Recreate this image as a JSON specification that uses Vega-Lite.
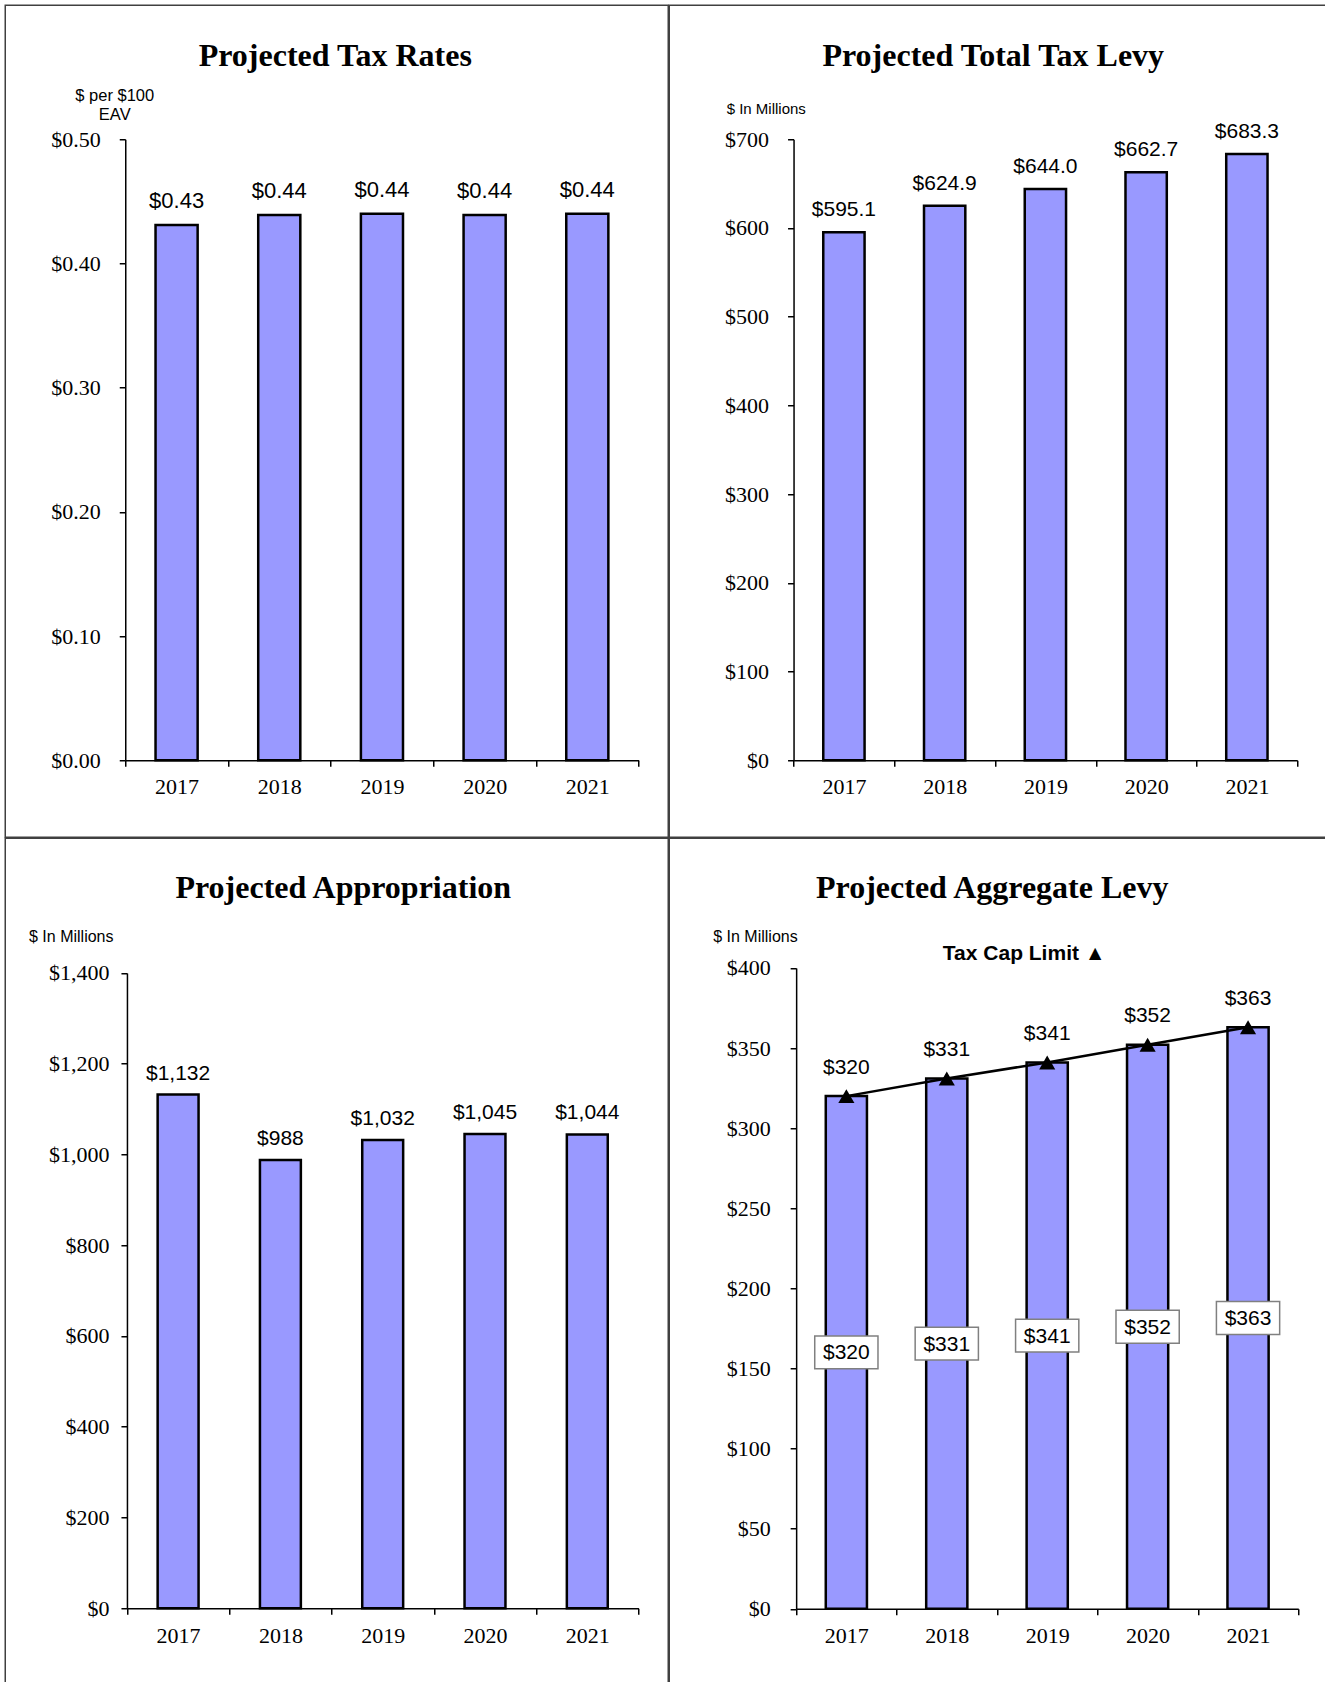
{
  "$schema": "https://vega.github.io/schema/vega-lite/v6.json",
  "padding": {"left": 4.25, "top": 4.25, "right": 0, "bottom": 0},
  "background": "white",
  "spacing": -1.5,
  "config": {
    "font": "Liberation Sans",
    "view": {"stroke": "#404040", "strokeWidth": 1.5},
    "concat": {"spacing": -1.5},
    "axis": {
      "domainColor": "black", "domainWidth": 1.5,
      "tickColor": "black", "tickWidth": 1.5, "tickSize": 6,
      "labelFont": "Liberation Serif", "labelFontSize": 22, "labelColor": "black",
      "grid": false,
      "titleFont": "Liberation Sans", "titleFontWeight": "normal", "titleColor": "black"
    },
    "title": {"font": "Liberation Serif", "fontSize": 32, "fontWeight": "bold", "color": "black", "anchor": "middle", "baseline": "alphabetic"},
    "text": {"font": "Liberation Sans", "fontSize": 21, "color": "black"}
  },
  "datasets": {
    "rates": [
      {"year": "2017", "rate": 0.431},
      {"year": "2018", "rate": 0.439},
      {"year": "2019", "rate": 0.440},
      {"year": "2020", "rate": 0.439},
      {"year": "2021", "rate": 0.440}
    ],
    "levy": [
      {"year": "2017", "levy": 595.1},
      {"year": "2018", "levy": 624.9},
      {"year": "2019", "levy": 644.0},
      {"year": "2020", "levy": 662.7},
      {"year": "2021", "levy": 683.3}
    ],
    "approp": [
      {"year": "2017", "amount": 1132},
      {"year": "2018", "amount": 988},
      {"year": "2019", "amount": 1032},
      {"year": "2020", "amount": 1045},
      {"year": "2021", "amount": 1044}
    ],
    "agg": [
      {"year": "2017", "levy": 320, "cap": 320},
      {"year": "2018", "levy": 331, "cap": 331},
      {"year": "2019", "levy": 341, "cap": 341},
      {"year": "2020", "levy": 352, "cap": 352},
      {"year": "2021", "levy": 363, "cap": 363}
    ]
  },
  "vconcat": [
    {
      "spacing": -1.5,
      "hconcat": [
        {
          "width": 663, "height": 832,
          "title": {"text": "Projected Tax Rates", "offset": -67.5, "dx": -1.5},
          "data": {"name": "rates"},
          "encoding": {
            "x": {"field": "year", "type": "ordinal", "sort": null,
              "scale": {"range": [120, 633.4], "paddingInner": 0, "paddingOuter": 0},
              "axis": {"title": null, "labelAngle": 0, "offset": -77, "tickBand": "extent", "labelPadding": 10, "labelFont": "Liberation Serif"}}
          },
          "layer": [
            {
              "mark": {"type": "bar", "fill": "#9999ff", "stroke": "black", "strokeWidth": 2.5, "width": {"band": 0.41}},
              "encoding": {
                "y": {"field": "rate", "type": "quantitative",
                  "scale": {"domain": [0, 0.5], "range": [755, 134]},
                  "axis": {"offset": -120, "values": [0, 0.1, 0.2, 0.3, 0.4, 0.5], "format": "$.2f", "labelPadding": 19, "labelFont": "Liberation Serif",
                    "title": ["$ per $100", "EAV"], "titleX": -11, "titleY": 82, "titleFontSize": 16.5, "titleLineHeight": 19.4,
                    "titleBaseline": "top", "titleAlign": "center", "titleAngle": 0}}
              }
            },
            {
              "mark": {"type": "text", "dy": -17, "baseline": "alphabetic", "fontSize": 22},
              "encoding": {
                "y": {"field": "rate", "type": "quantitative"},
                "text": {"field": "rate", "type": "quantitative", "format": "$.2f"}
              }
            }
          ]
        },
        {
          "width": 660, "height": 832,
          "title": {"text": "Projected Total Tax Levy", "offset": -67.5, "dx": -6},
          "data": {"name": "levy"},
          "encoding": {
            "x": {"field": "year", "type": "ordinal", "sort": null,
              "scale": {"range": [124.3, 628], "paddingInner": 0, "paddingOuter": 0},
              "axis": {"title": null, "labelAngle": 0, "offset": -77, "tickBand": "extent", "labelPadding": 10, "labelFont": "Liberation Serif"}}
          },
          "layer": [
            {
              "mark": {"type": "bar", "fill": "#9999ff", "stroke": "black", "strokeWidth": 2.5, "width": {"band": 0.41}},
              "encoding": {
                "y": {"field": "levy", "type": "quantitative",
                  "scale": {"domain": [0, 700], "range": [755, 134]},
                  "axis": {"offset": -124.3, "values": [0, 100, 200, 300, 400, 500, 600, 700], "format": "$,.0f", "labelPadding": 19, "labelFont": "Liberation Serif",
                    "title": "$ In Millions", "titleX": -27.8, "titleY": 103, "titleFontSize": 15,
                    "titleBaseline": "middle", "titleAlign": "center", "titleAngle": 0}}
              }
            },
            {
              "mark": {"type": "text", "dy": -16, "baseline": "alphabetic"},
              "encoding": {
                "y": {"field": "levy", "type": "quantitative"},
                "text": {"field": "levy", "type": "quantitative", "format": "$.1f"}
              }
            }
          ]
        }
      ]
    },
    {
      "spacing": -1.5,
      "hconcat": [
        {
          "width": 663, "height": 850,
          "title": {"text": "Projected Appropriation", "offset": -66.5, "dx": 6.5},
          "data": {"name": "approp"},
          "encoding": {
            "x": {"field": "year", "type": "ordinal", "sort": null,
              "scale": {"range": [121.7, 633.2], "paddingInner": 0, "paddingOuter": 0},
              "axis": {"title": null, "labelAngle": 0, "offset": -80, "tickBand": "extent", "labelPadding": 11, "labelFont": "Liberation Serif"}}
          },
          "layer": [
            {
              "mark": {"type": "bar", "fill": "#9999ff", "stroke": "black", "strokeWidth": 2.5, "width": {"band": 0.4}},
              "encoding": {
                "y": {"field": "amount", "type": "quantitative",
                  "scale": {"domain": [0, 1400], "range": [770, 134.7]},
                  "axis": {"offset": -121.7, "values": [0, 200, 400, 600, 800, 1000, 1200, 1400], "format": "$,.0f", "labelPadding": 12, "labelFont": "Liberation Serif",
                    "title": "$ In Millions", "titleX": -56.2, "titleY": 98, "titleFontSize": 16,
                    "titleBaseline": "middle", "titleAlign": "center", "titleAngle": 0}}
              }
            },
            {
              "mark": {"type": "text", "dy": -15, "baseline": "alphabetic"},
              "encoding": {
                "y": {"field": "amount", "type": "quantitative"},
                "text": {"field": "amount", "type": "quantitative", "format": "$,.0f"}
              }
            }
          ]
        },
        {
          "width": 660, "height": 850,
          "title": {"text": "Projected Aggregate Levy", "offset": -66.5, "dx": -7},
          "data": {"name": "agg"},
          "encoding": {
            "x": {"field": "year", "type": "ordinal", "sort": null,
              "scale": {"range": [126.9, 629], "paddingInner": 0, "paddingOuter": 0},
              "axis": {"title": null, "labelAngle": 0, "offset": -79.5, "tickBand": "extent", "labelPadding": 11, "labelFont": "Liberation Serif"}}
          },
          "resolve": {"scale": {"y": "independent"}},
          "layer": [
            {
              "mark": {"type": "bar", "fill": "#9999ff", "stroke": "black", "strokeWidth": 2.5, "width": {"band": 0.41}},
              "encoding": {
                "y": {"field": "levy", "type": "quantitative",
                  "scale": {"domain": [0, 400], "range": [770.5, 129.7]},
                  "axis": {"orient": "left", "offset": -126.9, "values": [0, 50, 100, 150, 200, 250, 300, 350, 400], "format": "$,.0f", "labelPadding": 20, "labelFont": "Liberation Serif",
                    "title": "$ In Millions", "titleX": -41.2, "titleY": 98.5, "titleFontSize": 16,
                    "titleBaseline": "middle", "titleAlign": "center", "titleAngle": 0}}
              }
            },
            {
              "mark": {"type": "line", "color": "black", "strokeWidth": 2.5},
              "encoding": {"y": {"field": "cap", "type": "quantitative", "scale": {"domain": [0, 400], "range": [770.5, 129.7]}, "axis": null}}
            },
            {
              "mark": {"type": "point", "shape": "triangle-up", "size": 260, "filled": true, "color": "black", "opacity": 1},
              "encoding": {"y": {"field": "cap", "type": "quantitative", "scale": {"domain": [0, 400], "range": [770.5, 129.7]}, "axis": null}}
            },
            {
              "mark": {"type": "text", "dy": -22.5, "baseline": "alphabetic"},
              "encoding": {
                "y": {"field": "cap", "type": "quantitative", "scale": {"domain": [0, 400], "range": [770.5, 129.7]}, "axis": null},
                "text": {"field": "cap", "type": "quantitative", "format": "$,.0f"}
              }
            },
            {
              "data": {"values": [{"label": "Tax Cap Limit ▲"}]},
              "mark": {"type": "text", "fontWeight": "bold", "fontSize": 21, "dx": -23, "baseline": "middle"},
              "encoding": {
                "x": {"datum": "2019"},
                "y": {"datum": 408.7, "type": "quantitative", "scale": {"domain": [0, 400], "range": [770.5, 129.7]}, "axis": null},
                "text": {"field": "label"}
              }
            },
            {
              "mark": {"type": "point", "shape": "M-1,-0.52H1V0.52H-1Z", "size": 4000, "filled": true, "fill": "white", "stroke": "#808080", "strokeWidth": 1.5, "opacity": 1},
              "encoding": {"y": {"field": "levy", "type": "quantitative", "scale": {"domain": [0, 800], "range": [770.5, 129.7]}, "axis": null}}
            },
            {
              "mark": {"type": "text", "dy": 1, "baseline": "middle"},
              "encoding": {
                "y": {"field": "levy", "type": "quantitative", "scale": {"domain": [0, 800], "range": [770.5, 129.7]}, "axis": null},
                "text": {"field": "levy", "type": "quantitative", "format": "$,.0f"}
              }
            }
          ]
        }
      ]
    }
  ]
}
